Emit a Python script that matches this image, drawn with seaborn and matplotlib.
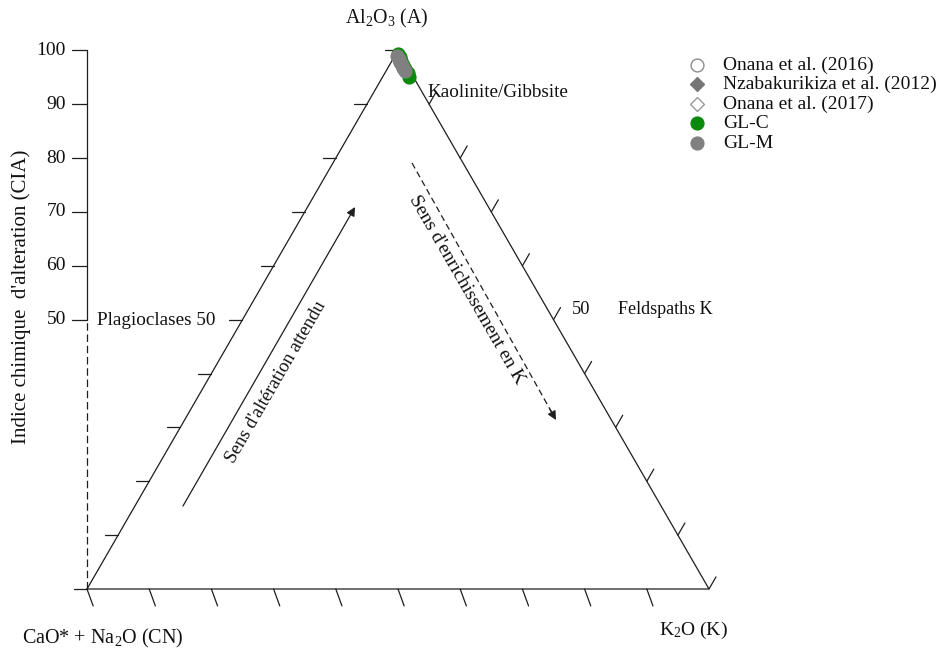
import numpy as np
import pandas as pd
import matplotlib
matplotlib.use("Agg")
import matplotlib.pyplot as plt
import seaborn as sns

# A-CN-K compositions (molar %): CN = CaO* + Na2O, A = Al2O3, K = K2O
onana2016_A = [97.8]
onana2016_CN = [0.7]
nzaba2012_A = [97.2]
nzaba2012_CN = [0.8]
onana2017_A = [96.7]
onana2017_CN = [0.8]
glc_A = [99.3, 98.7, 98.0, 97.3, 96.5, 95.7, 95.0]
glc_CN = [0.3, 0.4, 0.5, 0.5, 0.6, 0.6, 0.7]
glm_A = [99.0, 98.4, 97.8, 97.2, 96.7, 96.1]
glm_CN = [0.6, 0.7, 0.7, 0.8, 0.8, 0.9]

cia_ticks = [50, 60, 70, 80, 90, 100]
edge_ticks = np.arange(0, 11)  # tick marks every 10 %

SQ = np.sqrt(3) / 2


def to_xy(cn, a, k):
    tot = cn + a + k
    return (k + a / 2) / tot, a * SQ / tot


series = [
    ("Onana et al. (2016)", onana2016_A, onana2016_CN),
    ("Nzabakurikiza et al. (2012)", nzaba2012_A, nzaba2012_CN),
    ("Onana et al. (2017)", onana2017_A, onana2017_CN),
    ("GL-C", glc_A, glc_CN),
    ("GL-M", glm_A, glm_CN),
]
rows = []
for name, A, CN in series:
    for a, cn in zip(A, CN):
        k = 100 - a - cn
        x, y = to_xy(cn, a, k)
        rows.append(dict(source=name, CN=cn, A=a, K=k, x=x, y=y))
df = pd.DataFrame(rows)

styles = {
    "Onana et al. (2016)": dict(marker="o", color="white", edgecolor="#8c8c8c", s=85),
    "Nzabakurikiza et al. (2012)": dict(marker="D", color="#767676", edgecolor="#767676", s=50),
    "Onana et al. (2017)": dict(marker="D", color="white", edgecolor="#9a9a9a", s=50),
    "GL-C": dict(marker="o", color="#0a8a0a", edgecolor="#0a8a0a", s=85),
    "GL-M": dict(marker="o", color="#808080", edgecolor="#808080", s=85),
}

sns.set_theme(style="white")
plt.rcParams["font.family"] = ["Liberation Serif", "DejaVu Serif"]
plt.rcParams["mathtext.fontset"] = "custom"
plt.rcParams["mathtext.rm"] = "Liberation Serif"
plt.rcParams["mathtext.it"] = "Liberation Serif:italic"

fig = plt.figure(figsize=(9.44, 6.53), dpi=100)
ax = fig.add_axes([0, 0, 1, 1])
PX = 622.0
ax.set_xlim(-87 / PX, 857 / PX)
ax.set_ylim(-64 / PX, 589 / PX)
ax.set_aspect("equal")
ax.axis("off")

LC = "#1e1e1e"
LW = 0.9
TXT = "#111111"

# triangle frame
tri_x = [0, 1, 0.5, 0]
tri_y = [0, 0, SQ, 0]
ax.plot(tri_x, tri_y, color=LC, lw=LW, solid_joinstyle="miter")

# edge tick marks
L_left = 13 / PX
L_right = 14 / PX
L_bot = 18 / PX
bdir = np.array([np.cos(np.radians(-70)), np.sin(np.radians(-70))])
for i in edge_ticks:
    t = i / 10
    # CN-A edge: horizontal ticks pointing outwards
    x0, y0 = t / 2, t * SQ
    ax.plot([x0, x0 - L_left], [y0, y0], color=LC, lw=LW)
    # A-K edge
    if i > 0:
        x0, y0 = 0.5 + t / 2, (1 - t) * SQ
        ax.plot([x0, x0 + L_right * 0.5], [y0, y0 + L_right * SQ], color=LC, lw=LW)
    # CN-K edge
    if i < 10:
        x0 = t
        ax.plot([x0, x0 + L_bot * bdir[0]], [0, L_bot * bdir[1]], color=LC, lw=LW)

# CIA scale along the CN vertex vertical
y50 = 50 / 100 * SQ
ax.plot([0, 0], [0, y50], color=LC, lw=LW, linestyle=(0, (6, 3)))
ax.plot([0, 0], [y50, SQ], color=LC, lw=LW)
for v in cia_ticks:
    yv = v / 100 * SQ
    ax.plot([0, -15 / PX], [yv, yv], color=LC, lw=LW)
    ax.text(-21 / PX, yv, str(v), ha="right", va="center", fontsize=14, color=TXT)
ax.text(-66 / PX, 0.47, "Indice chimique  d'alteration (CIA)", rotation=90,
        ha="center", va="center", fontsize=15, color=TXT)

# sample points
for name, _, _ in series:
    st = styles[name]
    sub = df[df["source"] == name]
    sns.scatterplot(data=sub, x="x", y="y", ax=ax, marker=st["marker"],
                    color=st["color"], edgecolor=st["edgecolor"], s=st["s"],
                    linewidth=1.0, label=name, zorder=5)

leg = ax.legend(loc="upper left", bbox_to_anchor=(688 / 944, 1 - 56 / 653),
                bbox_transform=fig.transFigure, frameon=False, fontsize=14,
                handlelength=0.9, handletextpad=0.9, borderpad=0,
                labelspacing=0.1, borderaxespad=0)
for t in leg.get_texts():
    t.set_color(TXT)

# vertex and field labels
ax.text(0.481, 0.918, r"Al$_2$O$_3$ (A)", ha="center", va="center", fontsize=14.3, color=TXT)
ax.text(-0.1045, -0.080, r"CaO* + Na$_2$O (CN)", ha="left", va="center", fontsize=14.5, color=TXT)
ax.text(0.920, -0.066, r"K$_2$O (K)", ha="left", va="center", fontsize=14, color=TXT)
ax.text(0.548, 0.799, "Kaolinite/Gibbsite", ha="left", va="center", fontsize=13.8, color=TXT)
ax.text(0.206, 0.431, "Plagioclases 50", ha="right", va="center", fontsize=13.8, color=TXT)
ax.text(0.780, 0.449, "50", ha="left", va="center", fontsize=13.2, color=TXT)
ax.text(0.854, 0.449, "Feldspaths K", ha="left", va="center", fontsize=13, color=TXT)

# expected weathering trend
ax.annotate("", xy=(0.4309, 0.6141), xytext=(0.1543, 0.1334),
            arrowprops=dict(arrowstyle="-|>", color=LC, lw=LW, mutation_scale=13,
                            shrinkA=0, shrinkB=0))
ax.text(0.304, 0.333, "Sens d'altération attendu", rotation=60,
        rotation_mode="anchor", ha="center", va="center", fontsize=13.5, color=TXT)

# K enrichment trend (dashed)
p0 = np.array([0.5225, 0.6849])
p1 = np.array([0.7540, 0.2717])
d = (p1 - p0) / np.linalg.norm(p1 - p0)
ax.plot([p0[0], p1[0] - d[0] * 0.01], [p0[1], p1[1] - d[1] * 0.01],
        color=LC, lw=LW, linestyle=(0, (5, 3)))
ax.annotate("", xy=tuple(p1), xytext=tuple(p1 - d * 0.02),
            arrowprops=dict(arrowstyle="-|>", color=LC, lw=LW, mutation_scale=13,
                            shrinkA=0, shrinkB=0))
ax.text(0.611, 0.481, "Sens d'enrichissement en K", rotation=-60,
        rotation_mode="anchor", ha="center", va="center", fontsize=14, color=TXT)

fig.savefig("out.png", dpi=100, facecolor="white")
